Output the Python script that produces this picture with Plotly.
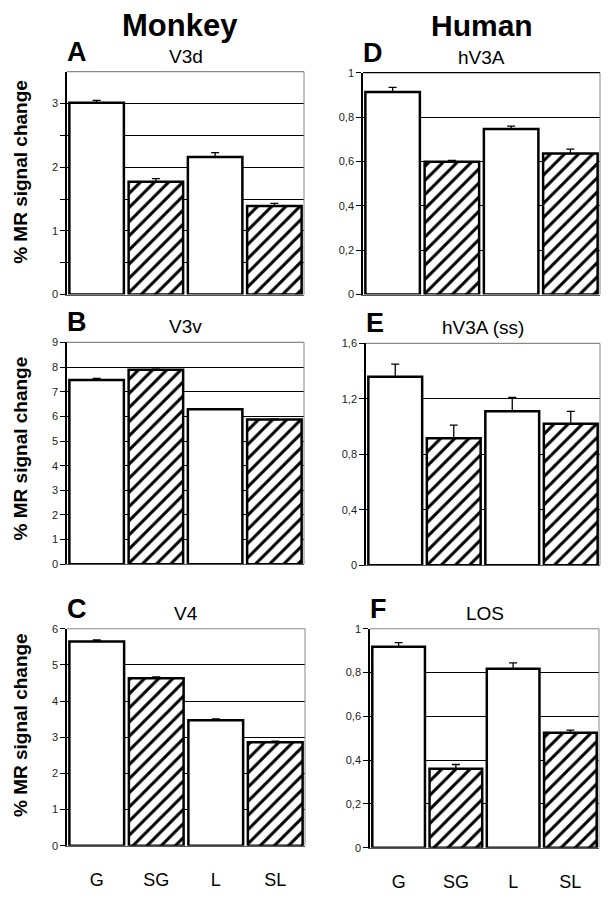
import plotly.graph_objects as go

# conditions, in plotting order
categories = ["G", "SG", "L", "SL"]
hatch = ["", "/", "", "/"]

# monkey areas
v3d = [3.01, 1.77, 2.16, 1.39]
v3d_err = [0.04, 0.05, 0.07, 0.04]
v3v = [7.47, 7.89, 6.29, 5.87]
v3v_err = [0.07, 0.02, 0.02, 0.02]
v4 = [5.65, 4.63, 3.47, 2.86]
v4_err = [0.04, 0.04, 0.04, 0.035]

# human areas
hv3a = [0.913, 0.598, 0.746, 0.635]
hv3a_err = [0.021, 0.006, 0.013, 0.020]
hv3a_ss = [1.36, 0.915, 1.11, 1.02]
hv3a_ss_err = [0.09, 0.095, 0.10, 0.09]
los = [0.918, 0.361, 0.817, 0.525]
los_err = [0.019, 0.019, 0.027, 0.012]

# y axis ticks per panel
ticks_a = [0, 0.5, 1, 1.5, 2, 2.5, 3]
ticktext_a = ["0", "", "1", "", "2", "", "3"]
ticks_b = [0, 1, 2, 3, 4, 5, 6, 7, 8, 9]
ticks_c = [0, 1, 2, 3, 4, 5, 6]
ticks_d = [0, 0.2, 0.4, 0.6, 0.8, 1]
ticktext_d = ["0", "0,2", "0,4", "0,6", "0,8", "1"]
ticks_e = [0, 0.4, 0.8, 1.2, 1.6]
ticktext_e = ["0", "0,4", "0,8", "1,2", "1,6"]

# the page body has an 8px margin, so the figure is made smaller and
# every pixel position below (measured on the 609x900 target) is shifted
PAD = 8
W, H = 609 - 2 * PAD, 900 - 2 * PAD
FONT = "Liberation Sans, Arial, sans-serif"


def px_x(p):
    return min(max((p - PAD) / W, 0), 1)


def px_y(p):
    return min(max(1 - (p - PAD) / H, 0), 1)


def xd(a, b):
    return [px_x(a), px_x(b)]


def yd(top, bot):
    return [px_y(bot), px_y(top)]


# panel: (letter, title, values, errors, ymax, tickvals, ticktext, x px, y px, show x labels, gray top)
panels = [
    ("A", "V3d", v3d, v3d_err, 3.5, ticks_a, ticktext_a, (67, 304), (67, 295), False, True),
    ("D", "hV3A", hv3a, hv3a_err, 1.0, ticks_d, ticktext_d, (363, 600), (68, 295), False, False),
    ("B", "V3v", v3v, v3v_err, 9, ticks_b, [str(t) for t in ticks_b], (67, 304), (344, 571), False, True),
    ("E", "hV3A (ss)", hv3a_ss, hv3a_ss_err, 1.6, ticks_e, ticktext_e, (366, 600), (345, 572), False, True),
    ("C", "V4", v4, v4_err, 6, ticks_c, [str(t) for t in ticks_c], (67, 305), (637, 859), True, True),
    ("F", "LOS", los, los_err, 1.0, ticks_d, ticktext_d, (370, 599), (637, 861), True, True),
]

fig = go.Figure()
layout = {}
annotations = []
shapes = []

for i, (letter, title, vals, errs, ymax, tv, tt, xpx, ypx, showx, graytop) in enumerate(panels):
    n = "" if i == 0 else str(i + 1)
    fig.add_trace(go.Bar(
        x=categories, y=vals,
        xaxis="x" + n, yaxis="y" + n,
        marker=dict(color="white",
                    line=dict(color="black", width=2.5),
                    pattern=dict(shape=hatch, fgcolor="black", bgcolor="white",
                                 fgopacity=1, size=10, solidity=0.3)),
        error_y=dict(type="data", symmetric=False, array=errs,
                     arrayminus=[0] * len(errs), color="black",
                     thickness=1.3, width=4),
        showlegend=False,
    ))
    layout["xaxis" + n] = dict(
        domain=xd(*xpx), anchor="y" + n, type="category",
        showline=True, linecolor="#555", linewidth=1,
        showgrid=False, ticks="", showticklabels=showx,
        tickfont=dict(family=FONT, size=18, color="black"),
        ticklabelstandoff=18,
    )
    layout["yaxis" + n] = dict(
        domain=yd(*ypx), anchor="x" + n, range=[0, ymax],
        tickvals=tv, ticktext=tt,
        showline=True, linecolor="black", linewidth=1.5,
        ticks="outside", ticklen=5, tickwidth=1, tickcolor="black",
        showgrid=True, gridcolor="black", gridwidth=1,
        zeroline=False,
        tickfont=dict(family=FONT, size=11, color="#222"),
    )
    # thin gray frame on the top and right of each plot area
    xr, yr = "x" + n + " domain", "y" + n + " domain"
    shapes.append(dict(type="line", xref=xr, yref=yr, x0=1, x1=1, y0=0, y1=1,
                       line=dict(color="#888", width=1), layer="above"))
    shapes.append(dict(type="line", xref=xr, yref=yr, x0=0, x1=1, y0=1, y1=1,
                       line=dict(color="#888" if graytop else "black", width=1.2),
                       layer="above"))
    # panel letter and area name
    annotations.append(dict(text="<b>" + letter + "</b>", xref="paper", yref="paper",
                            x=px_x(xpx[0] - 2), y=px_y(ypx[0] - 3),
                            xanchor="left", yanchor="bottom", showarrow=False,
                            font=dict(family=FONT, size=27, color="black")))
    annotations.append(dict(text=title, xref="paper", yref="paper",
                            x=px_x((xpx[0] + xpx[1]) / 2), y=px_y(ypx[0] - 3),
                            xanchor="center", yanchor="bottom", showarrow=False,
                            font=dict(family=FONT, size=19, color="black")))

# column headers
annotations.append(dict(text="<b>Monkey</b>", xref="paper", yref="paper",
                        x=px_x(180), y=px_y(20), xanchor="center", yanchor="middle",
                        showarrow=False, font=dict(family=FONT, size=31, color="black")))
annotations.append(dict(text="<b>Human</b>", xref="paper", yref="paper",
                        x=px_x(482), y=px_y(20), xanchor="center", yanchor="middle",
                        showarrow=False, font=dict(family=FONT, size=30, color="black")))

# y axis titles on the left column
for yc in [170, 453, 736]:
    annotations.append(dict(text="<b>% MR signal change</b>", xref="paper", yref="paper",
                            x=px_x(8), y=px_y(yc), xanchor="left", yanchor="middle",
                            textangle=-90, showarrow=False,
                            font=dict(family=FONT, size=19, color="black")))

fig.update_layout(
    width=W, height=H,
    margin=dict(l=0, r=0, t=0, b=0),
    paper_bgcolor="white", plot_bgcolor="white",
    bargap=0.08,
    annotations=annotations, shapes=shapes,
    **layout,
)

fig.write_html("out.html")
